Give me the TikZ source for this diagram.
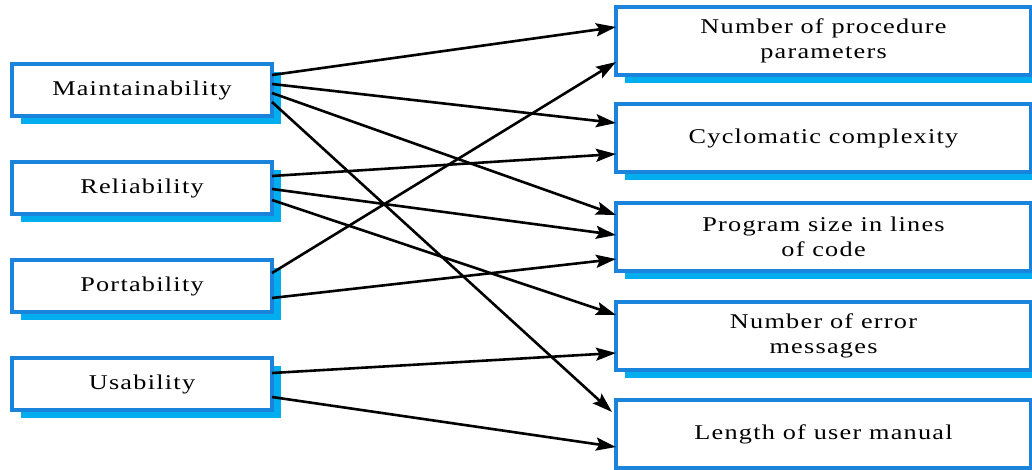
\documentclass[tikz,border=0pt]{standalone}
\usepackage{fontspec}
\setmainfont{Liberation Serif}
\newfontfamily\boxfont[FakeStretch=1.25, LetterSpace=6]{Liberation Serif}
\usetikzlibrary{arrows.meta, shadows}
\definecolor{boxBlue}{HTML}{1A84DC}
\definecolor{shadowCyan}{HTML}{00AEEF}
\tikzset{
  cardbox/.style    = {draw=boxBlue, line width=3.2pt, fill=white, outer sep=0pt,
                       align=center, font=\boxfont\fontsize{21}{25}\selectfont,
                       drop shadow={shadow xshift=9pt, shadow yshift=-8pt,
                                    fill=shadowCyan, opacity=1}},
  qualbox/.style    = {cardbox, minimum width=260pt, minimum height=52pt},
  metricbox/.style  = {cardbox, minimum width=415pt, minimum height=68pt},
  link/.style       = {-{Stealth[length=20pt, width=13pt, inset=3.5pt]},
                       line width=2.6pt, black},
}
\begin{document}
\begin{tikzpicture}[x=1pt, y=-1pt]
  \useasboundingbox (0,0) rectangle (1032,470);

  % quality attributes (left)
  \node[qualbox] (mnt) at (142,90)  {Maintainability};
  \node[qualbox] (rel) at (142,188) {Reliability};
  \node[qualbox] (prt) at (142,286) {Portability};
  \node[qualbox] (usa) at (142,384) {Usability};

  % measurable metrics (right)
  \node[metricbox] (npp) at (823.5,41)  {Number of procedure\\parameters};
  \node[metricbox] (cyc) at (823.5,138) {Cyclomatic complexity};
  \node[metricbox] (loc) at (823.5,237) {Program size in lines\\of code};
  \node[metricbox] (nem) at (823.5,336) {Number of error\\messages};
  \node[metricbox] (lum) at (823.5,434) {Length of user manual};

  \draw[link] ([yshift=15pt]mnt.east)  -- ([yshift=14pt]npp.west);
  \draw[link] ([yshift=6pt]mnt.east)   -- ([yshift=15pt]cyc.west);
  \draw[link] ([yshift=-3pt]mnt.east)  -- ([yshift=22pt]loc.west);
  \draw[link] ([yshift=-12pt]mnt.east) -- ([xshift=-4pt, yshift=22pt]lum.west);

  \draw[link] ([yshift=12pt]rel.east)  -- ([yshift=-16pt]cyc.west);
  \draw[link] ([yshift=-1pt]rel.east)  -- ([yshift=2pt]loc.west);
  \draw[link] ([yshift=-12pt]rel.east) -- ([yshift=21pt]nem.west);

  \draw[link] ([yshift=13pt]prt.east)  -- ([yshift=-21pt]npp.west);
  \draw[link] ([yshift=-12pt]prt.east) -- ([yshift=-22pt]loc.west);

  \draw[link] ([yshift=11pt]usa.east)  -- ([yshift=-17pt]nem.west);
  \draw[link] ([yshift=-13pt]usa.east) -- ([yshift=-13pt]lum.west);
\end{tikzpicture}
\end{document}
